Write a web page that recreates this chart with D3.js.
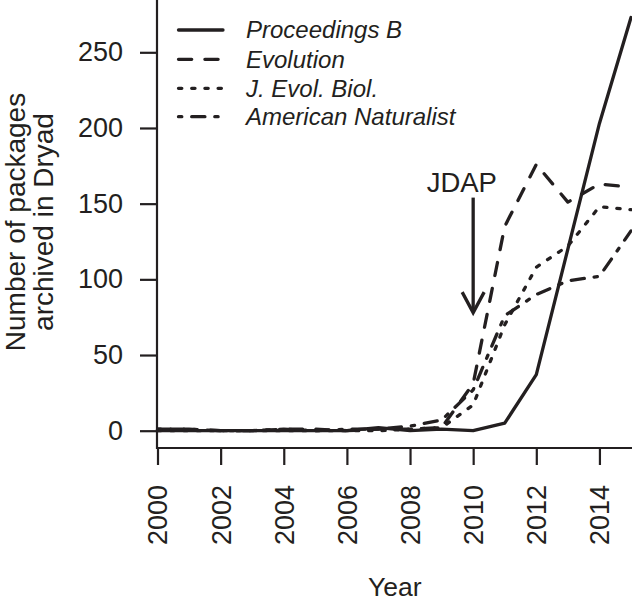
<!DOCTYPE html>
<html><head><meta charset="utf-8">
<script src="https://cdn.jsdelivr.net/npm/d3@7"></script>
<style>html,body{margin:0;padding:0;background:#fff;}svg{display:block;}text{font-family:"Liberation Sans",Arial,Helvetica,sans-serif;fill:#231f20;}</style>
</head><body>
<script>
const years = [2000,2001,2002,2003,2004,2005,2006,2007,2008,2009,2010,2011,2012,2013,2014,2015];
const procB = [0,0,0,0,0,0,0,2,0,1,0,5,37,120,203,273];
const evolution = [1,1,0,0,1,1,0,1,1,2,31,135,176,151,163,161];
const jeb = [0,0,0,0,0,0,0,0,1,2,17,70,108,122,148,146];
const amNat = [1,1,0,0,1,0,1,1,3,7,27,76,90,99,102,132];
const seriesNames = ["Proceedings B","Evolution","J. Evol. Biol.","American Naturalist"];
const yTicks = [0,50,100,150,200,250];
const xTicks = [2000,2002,2004,2006,2008,2010,2012,2014];
const annotation = {label:"JDAP", year:2010, from:154, to:78};

const W=632,H=601, ink="#231f20", lw=3.3;
const dashes = [null, "13.2,13.2", "3.3,9.9", "3.3,9.9,13.2,9.9"];
const allSeries = [procB, evolution, jeb, amNat];

const x = d3.scaleLinear().domain([2000,2015]).range([157.5,631]);
const y = d3.scaleLinear().domain([0,250]).range([430.7,52.3]);
const plotBottom = 448, axisX = 157;

const svg = d3.select("body").append("svg").attr("width",W).attr("height",H);

// box (L-shaped)
svg.append("path").attr("d",`M${axisX},0V${plotBottom}H${W}`).attr("fill","none").attr("stroke",ink).attr("stroke-width",2.2);

// y axis
const yAxis = d3.axisLeft(y).tickValues(yTicks).tickSize(17).tickPadding(17).tickFormat(d3.format("d"));
const gy = svg.append("g").attr("transform",`translate(${axisX},0)`).call(yAxis);
gy.select(".domain").remove();
gy.selectAll("line").attr("stroke",ink).attr("stroke-width",2.2);
gy.selectAll("text").attr("font-size",27).attr("fill",ink).attr("font-family","Liberation Sans, Arial, sans-serif");

// x axis
const xAxis = d3.axisBottom(x).tickValues(xTicks).tickSize(17).tickFormat(d3.format("d"));
const gx = svg.append("g").attr("transform",`translate(0,${plotBottom})`).call(xAxis);
gx.select(".domain").remove();
gx.selectAll("line").attr("stroke",ink).attr("stroke-width",2.2);
gx.selectAll("text").attr("font-size",27).attr("fill",ink).attr("font-family","Liberation Sans, Arial, sans-serif")
  .attr("transform","translate(0,37) rotate(-90)").attr("y",0).attr("dy","0.35em").attr("x",0).attr("text-anchor","end");

// lines
const line = d3.line().x((d,i)=>x(years[i])).y(d=>y(d));
allSeries.forEach((s,k)=>{
  const p = svg.append("path").datum(s).attr("d",line).attr("fill","none").attr("stroke",ink)
    .attr("stroke-width",lw).attr("stroke-linecap","round").attr("stroke-linejoin","round");
  if(dashes[k]) p.attr("stroke-dasharray",dashes[k]);
});

// legend
const legY = [30,59.3,88.3,116.7];
seriesNames.forEach((n,k)=>{
  const l = svg.append("line").attr("x1",178.5).attr("x2",223).attr("y1",legY[k]).attr("y2",legY[k])
    .attr("stroke",ink).attr("stroke-width",lw).attr("stroke-linecap","round");
  if(dashes[k]) l.attr("stroke-dasharray",dashes[k]);
  svg.append("text").attr("x",246).attr("y",legY[k]+8.4).attr("font-size",24).attr("font-style","italic").text(n);
});

// annotation
svg.append("text").attr("x",x(2009.64)).attr("y",191.7).attr("text-anchor","middle").attr("font-size",27.5).text(annotation.label);
const ax = x(annotation.year), y0=y(annotation.from), y1=y(annotation.to);
svg.append("line").attr("x1",ax).attr("x2",ax).attr("y1",y0).attr("y2",y1-1).attr("stroke",ink).attr("stroke-width",lw);
svg.append("path").attr("d",`M${ax-11},${y1-20.5}L${ax},${y1}L${ax+11},${y1-20.5}`).attr("fill","none").attr("stroke",ink).attr("stroke-width",lw).attr("stroke-linejoin","miter");

// axis titles
svg.append("text").attr("x",(x(2000)+W)/2).attr("y",596).attr("text-anchor","middle").attr("font-size",26.5).text("Year");
const yt = svg.append("text").attr("transform","translate(0,222) rotate(-90)").attr("text-anchor","middle").attr("font-size",28);
yt.append("tspan").attr("x",0).attr("y",24.5).text("Number of packages");
yt.append("tspan").attr("x",0).attr("y",52.5).text("archived in Dryad");
</script>
</body></html>
